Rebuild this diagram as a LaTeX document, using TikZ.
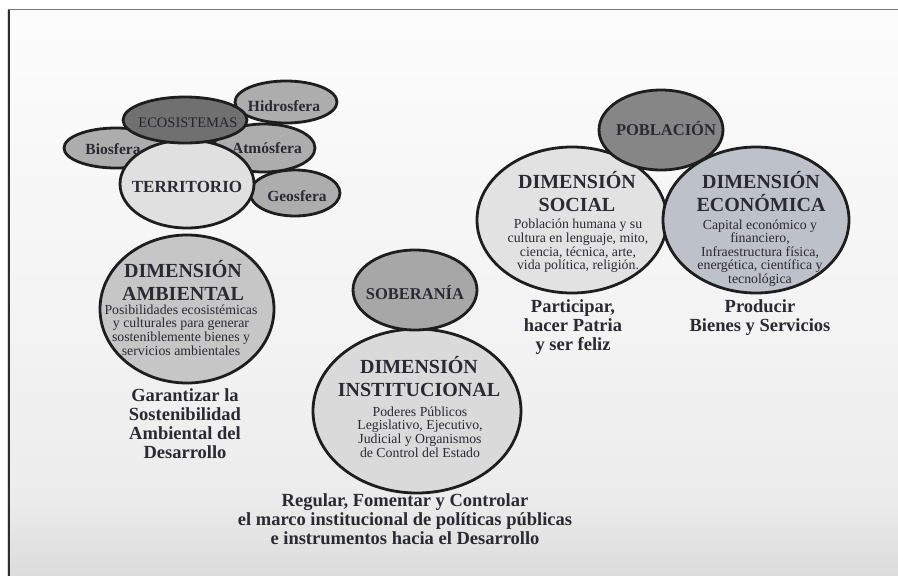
\documentclass[tikz,border=0pt]{standalone}
\usepackage{fontspec}
\setmainfont{Liberation Serif}
\usetikzlibrary{shapes.geometric}

\definecolor{ink}{HTML}{2A2A33}
\definecolor{edge}{HTML}{1E1E1E}
\definecolor{sphere}{HTML}{ADADAD}
\definecolor{ecofill}{HTML}{707070}
\definecolor{terrfill}{HTML}{E0E0E0}
\definecolor{ambfill}{HTML}{C6C6C6}
\definecolor{sobfill}{HTML}{A7A7A7}
\definecolor{instfill}{HTML}{DADADA}
\definecolor{pobfill}{HTML}{868686}
\definecolor{socfill}{HTML}{E2E2E2}
\definecolor{econfill}{HTML}{BDC1C9}

\begin{document}
\begin{tikzpicture}[x=1pt,y=-1pt,
  bubble/.style={ellipse, draw=edge, line width=2.8pt, inner sep=0pt},
  head/.style={font=\bfseries\fontsize{20}{23}\selectfont, text=ink, align=center},
  body/.style={font=\fontsize{13.8}{13.6}\selectfont, text=ink, align=center},
  tag/.style={font=\bfseries\fontsize{16.5}{18}\selectfont, text=ink},
  motto/.style={font=\bfseries\fontsize{18.5}{19}\selectfont, text=ink, align=center}]

\useasboundingbox (0,0) rectangle (898,576);

% page background: white fading to light grey towards the bottom
\fill[white] (0,0) rectangle (898,576);
\shade[top color=white!99!black, bottom color=white!95!black] (9,10) rectangle (898,350);
\shade[top color=white!95!black, bottom color=white!92.5!black] (9,350) rectangle (898,500);
\shade[top color=white!92.5!black, bottom color=white!86!black] (9,500) rectangle (898,576);

% frame
\draw[white!85!black, line width=0.8pt] (7,10) -- (7,576);
\draw[white!18!black, line width=1.6pt] (9,9) -- (9,576);
\draw[white!48!black, line width=1.8pt] (8.2,9.5) -- (898,9.5);

% ---- territory cluster ----
\node[bubble, fill=sphere, minimum width=102pt, minimum height=42pt] (hid) at (286,102) {};
\node[bubble, fill=sphere, minimum width=90pt, minimum height=46pt] (geo) at (295,193) {};
\node[bubble, fill=sphere, minimum width=104pt, minimum height=40pt] (bio) at (116,148) {};
\node[bubble, fill=sphere, minimum width=102pt, minimum height=48pt] (atm) at (264,148) {};
\node[bubble, fill=terrfill, minimum width=134pt, minimum height=88pt] (ter) at (187,184) {};
\node[bubble, fill=ecofill, minimum width=124pt, minimum height=46pt] (eco) at (185,120) {};

\node[tag, font=\bfseries\fontsize{15.5}{17}\selectfont] (hidt) at (284,106) {Hidrosfera};
\node[tag, font=\bfseries\fontsize{15.5}{17}\selectfont] (geot) at (297,196) {Geosfera};
\node[tag, font=\bfseries\fontsize{15.5}{17}\selectfont] (biot) at (113,149) {Biosfera};
\node[tag, font=\bfseries\fontsize{15.5}{17}\selectfont] (atmt) at (267,148) {Atmósfera};
\node[tag, font=\bfseries\fontsize{17}{18}\selectfont] (tert) at (187,187) {TERRITORIO};
\node[font=\fontsize{14.5}{16}\selectfont, text=ink!85!black] (ecot) at (188,123) {ECOSISTEMAS};

% ---- environmental dimension ----
\node[bubble, fill=ambfill, minimum width=174pt, minimum height=148pt] (amb) at (187,309) {};
\node[head] (ambh) at (183,280) {DIMENSIÓN\\AMBIENTAL};
\node[body] (ambb) at (181,330) {Posibilidades ecosistémicas\\y culturales para generar\\sosteniblemente bienes y\\servicios ambientales};
\node[motto] (ambm) at (185,424) {Garantizar la\\Sostenibilidad\\Ambiental del\\Desarrollo};

% ---- institutional dimension ----
\node[bubble, fill=instfill, minimum width=208pt, minimum height=164pt] (inst) at (417,411) {};
\node[bubble, fill=sobfill, minimum width=124pt, minimum height=80pt] (sob) at (415,290) {};
\node[tag] (sobt) at (415,292) {SOBERANÍA};
\node[head] (insth) at (419,377) {DIMENSIÓN\\INSTITUCIONAL};
\node[body] (instb) at (420,432) {Poderes Públicos\\Legislativo, Ejecutivo,\\Judicial y Organismos\\de Control del Estado};
\node[motto] (instm) at (405,519) {Regular, Fomentar y Controlar\\el marco institucional de políticas públicas\\e instrumentos hacia el Desarrollo};

% ---- social and economic dimensions ----
\node[bubble, fill=socfill, minimum width=190pt, minimum height=146pt] (soc) at (572,220) {};
\node[bubble, fill=econfill, minimum width=186pt, minimum height=146pt] (econ) at (756,220) {};
\node[bubble, fill=pobfill, minimum width=124pt, minimum height=80pt] (pob) at (661,130) {};
\node[tag] (pobt) at (666,128) {POBLACIÓN};

\node[head] (soch) at (577,192) {DIMENSIÓN\\SOCIAL};
\node[body] (socb) at (578,246) {Población humana y su\\cultura en lenguaje, mito,\\ciencia, técnica, arte,\\vida política, religión.};
\node[motto] (socm) at (573,327) {Participar,\\hacer Patria\\y ser feliz};

\node[head] (econh) at (761,192) {DIMENSIÓN\\ECONÓMICA};
\node[body] (econb) at (760,253) {Capital económico y\\financiero,\\Infraestructura física,\\energética, científica y\\tecnológica};
\node[motto] (econm) at (760,318) {Producir\\Bienes y Servicios};

\end{tikzpicture}
\end{document}
